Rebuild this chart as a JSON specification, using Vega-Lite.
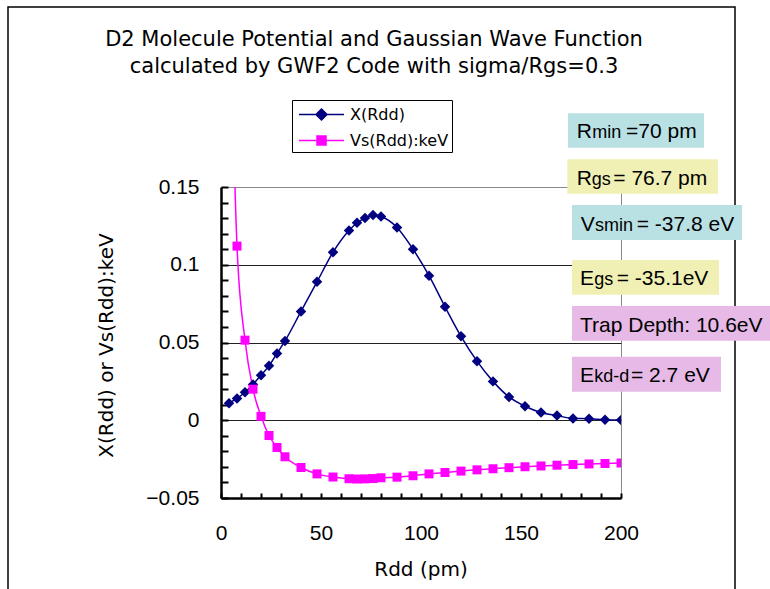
{
  "$schema": "https://vega.github.io/schema/vega-lite/v6.json",
  "width": 400,
  "height": 311,
  "autosize": {"type": "none"},
  "padding": {"left": 221, "top": 187, "right": 149, "bottom": 91},
  "background": "white",
  "config": {
    "view": {"stroke": "#888888", "strokeWidth": 1},
    "font": "Liberation Sans"
  },
  "title": {
    "text": ["D2 Molecule Potential and Gaussian Wave Function", "calculated by GWF2 Code with sigma/Rgs=0.3"],
    "font": "DejaVu Sans", "fontSize": 21, "fontWeight": "normal", "color": "black",
    "anchor": "middle", "dx": -47, "dy": 95, "lineHeight": 27, "offset": 24
  },
  "resolve": {"axis": {"x": "independent", "y": "independent"}},
  "datasets": {
    "frame": [{"x1": -106.5, "x2": 257, "y1": 0.2658, "y2": -0.12}],
    "boxes": [
      {"kind": "teal", "bx1": 173.5, "bx2": 241.5, "by1": 0.1974, "by2": 0.1753, "big": "R", "sub": "min", "rest": "=70 pm", "bigx": 177.85, "subx": 185.65, "restx": 202.5, "ty": 0.1813},
      {"kind": "yellow", "bx1": 173.15, "bx2": 248.5, "by1": 0.1678, "by2": 0.1457, "big": "R", "sub": "gs", "rest": "= 76.7 pm", "bigx": 177.85, "subx": 185.35, "restx": 196.15, "ty": 0.1513},
      {"kind": "teal", "bx1": 175.5, "bx2": 260.5, "by1": 0.1384, "by2": 0.1159, "big": "V", "sub": "smin", "rest": "= -37.8 eV", "bigx": 179.85, "subx": 187, "restx": 207.85, "ty": 0.1219},
      {"kind": "yellow", "bx1": 175.5, "bx2": 249, "by1": 0.1031, "by2": 0.0807, "big": "E", "sub": "gs", "rest": "= -35.1eV", "bigx": 179.5, "subx": 186.65, "restx": 197.85, "ty": 0.0870},
      {"kind": "pink", "bx1": 175.5, "bx2": 274.5, "by1": 0.0735, "by2": 0.0512, "big": "", "sub": "", "rest": "Trap Depth: 10.6eV", "bigx": 179.5, "subx": 179.5, "restx": 179.5, "ty": 0.0569},
      {"kind": "pink", "bx1": 175.5, "bx2": 250, "by1": 0.0409, "by2": 0.0184, "big": "E", "sub": "kd-d", "rest": "= 2.7 eV", "bigx": 179.5, "subx": 186.65, "restx": 205, "ty": 0.0248}
    ],
    "series": [
      {"series": "X(Rdd)", "rdd": 4, "value": 0.011},
      {"series": "X(Rdd)", "rdd": 8, "value": 0.014},
      {"series": "X(Rdd)", "rdd": 12, "value": 0.018},
      {"series": "X(Rdd)", "rdd": 16, "value": 0.023},
      {"series": "X(Rdd)", "rdd": 20, "value": 0.029},
      {"series": "X(Rdd)", "rdd": 24, "value": 0.035},
      {"series": "X(Rdd)", "rdd": 28, "value": 0.043},
      {"series": "X(Rdd)", "rdd": 32, "value": 0.051},
      {"series": "X(Rdd)", "rdd": 40, "value": 0.070},
      {"series": "X(Rdd)", "rdd": 48, "value": 0.089},
      {"series": "X(Rdd)", "rdd": 56, "value": 0.108},
      {"series": "X(Rdd)", "rdd": 64, "value": 0.122},
      {"series": "X(Rdd)", "rdd": 68, "value": 0.127},
      {"series": "X(Rdd)", "rdd": 72, "value": 0.130},
      {"series": "X(Rdd)", "rdd": 76, "value": 0.132},
      {"series": "X(Rdd)", "rdd": 80, "value": 0.131},
      {"series": "X(Rdd)", "rdd": 88, "value": 0.124},
      {"series": "X(Rdd)", "rdd": 96, "value": 0.110},
      {"series": "X(Rdd)", "rdd": 104, "value": 0.093},
      {"series": "X(Rdd)", "rdd": 112, "value": 0.073},
      {"series": "X(Rdd)", "rdd": 120, "value": 0.054},
      {"series": "X(Rdd)", "rdd": 128, "value": 0.038},
      {"series": "X(Rdd)", "rdd": 136, "value": 0.025},
      {"series": "X(Rdd)", "rdd": 144, "value": 0.015},
      {"series": "X(Rdd)", "rdd": 152, "value": 0.009},
      {"series": "X(Rdd)", "rdd": 160, "value": 0.005},
      {"series": "X(Rdd)", "rdd": 168, "value": 0.003},
      {"series": "X(Rdd)", "rdd": 176, "value": 0.0012},
      {"series": "X(Rdd)", "rdd": 184, "value": 0.001},
      {"series": "X(Rdd)", "rdd": 192, "value": 0.0003},
      {"series": "X(Rdd)", "rdd": 200, "value": 0.0001},
      {"series": "Vs(Rdd):keV", "rdd": 4, "value": 0.3},
      {"series": "Vs(Rdd):keV", "rdd": 8, "value": 0.112},
      {"series": "Vs(Rdd):keV", "rdd": 12, "value": 0.0515},
      {"series": "Vs(Rdd):keV", "rdd": 16, "value": 0.020},
      {"series": "Vs(Rdd):keV", "rdd": 20, "value": 0.0025},
      {"series": "Vs(Rdd):keV", "rdd": 24, "value": -0.0098},
      {"series": "Vs(Rdd):keV", "rdd": 28, "value": -0.0175},
      {"series": "Vs(Rdd):keV", "rdd": 32, "value": -0.0235},
      {"series": "Vs(Rdd):keV", "rdd": 40, "value": -0.0304},
      {"series": "Vs(Rdd):keV", "rdd": 48, "value": -0.0345},
      {"series": "Vs(Rdd):keV", "rdd": 56, "value": -0.0365},
      {"series": "Vs(Rdd):keV", "rdd": 64, "value": -0.0376},
      {"series": "Vs(Rdd):keV", "rdd": 68, "value": -0.0378},
      {"series": "Vs(Rdd):keV", "rdd": 72, "value": -0.0377},
      {"series": "Vs(Rdd):keV", "rdd": 76, "value": -0.0375},
      {"series": "Vs(Rdd):keV", "rdd": 80, "value": -0.0370},
      {"series": "Vs(Rdd):keV", "rdd": 88, "value": -0.0366},
      {"series": "Vs(Rdd):keV", "rdd": 96, "value": -0.0357},
      {"series": "Vs(Rdd):keV", "rdd": 104, "value": -0.0345},
      {"series": "Vs(Rdd):keV", "rdd": 112, "value": -0.0336},
      {"series": "Vs(Rdd):keV", "rdd": 120, "value": -0.0327},
      {"series": "Vs(Rdd):keV", "rdd": 128, "value": -0.0319},
      {"series": "Vs(Rdd):keV", "rdd": 136, "value": -0.0312},
      {"series": "Vs(Rdd):keV", "rdd": 144, "value": -0.0305},
      {"series": "Vs(Rdd):keV", "rdd": 152, "value": -0.0299},
      {"series": "Vs(Rdd):keV", "rdd": 160, "value": -0.0294},
      {"series": "Vs(Rdd):keV", "rdd": 168, "value": -0.0289},
      {"series": "Vs(Rdd):keV", "rdd": 176, "value": -0.0285},
      {"series": "Vs(Rdd):keV", "rdd": 184, "value": -0.0281},
      {"series": "Vs(Rdd):keV", "rdd": 192, "value": -0.0278},
      {"series": "Vs(Rdd):keV", "rdd": 200, "value": -0.0275}
    ]
  },
  "layer": [
    {
      "data": {"name": "series"},
      "mark": {"type": "line", "interpolate": "monotone", "strokeWidth": 1.5, "clip": true},
      "encoding": {
        "x": {
          "field": "rdd", "type": "quantitative",
          "scale": {"domain": [0, 200], "nice": false, "zero": false},
          "axis": {
            "values": [0, 10, 20, 30, 40, 50, 60, 70, 80, 90, 100, 110, 120, 130, 140, 150, 160, 170, 180, 190, 200],
            "labelExpr": "datum.value % 50 === 0 ? format(datum.value, 'd') : ''",
            "title": "Rdd (pm)", "titleFont": "DejaVu Sans", "titleFontSize": 20, "titleFontWeight": "normal", "titleColor": "black",
            "titleX": 199.5, "titleY": 77, "titleBaseline": "alphabetic", "titleAlign": "center",
            "labelFont": "Liberation Sans", "labelFontSize": 21, "labelColor": "black", "labelPadding": 29, "labelBaseline": "top",
            "labelFlush": false, "labelOverlap": false, "labelBound": false,
            "tickSize": -5, "tickWidth": 2, "tickColor": "black",
            "domainColor": "black", "domainWidth": 2.5, "grid": false
          }
        },
        "y": {
          "field": "value", "type": "quantitative",
          "scale": {"domain": [-0.05, 0.15], "nice": false, "zero": false},
          "axis": {
            "values": [-0.05, -0.04, -0.03, -0.02, -0.01, 0, 0.01, 0.02, 0.03, 0.04, 0.05, 0.06, 0.07, 0.08, 0.09, 0.1, 0.11, 0.12, 0.13, 0.14, 0.15],
            "labelExpr": "abs(round(datum.value * 100)) % 5 === 0 ? format(datum.value, '~g') : ''",
            "title": "X(Rdd) or Vs(Rdd):keV", "titleFont": "DejaVu Sans", "titleFontSize": 20, "titleFontWeight": "normal", "titleColor": "black",
            "titleX": -115, "titleY": 158, "titleBaseline": "middle", "titleAlign": "center", "titleAngle": -90,
            "labelFont": "Liberation Sans", "labelFontSize": 21, "labelColor": "black", "labelPadding": 29,
            "labelOverlap": false, "labelFlush": false, "labelBound": false,
            "tickSize": -7, "tickWidth": 2, "tickColor": "black",
            "domainColor": "black", "domainWidth": 2.5,
            "grid": true, "gridColor": "#222222", "gridWidth": 1,
            "gridOpacity": {"condition": {"test": "datum.value > -0.045 && datum.value < 0.145 && abs(round(datum.value * 100)) % 5 === 0", "value": 1}, "value": 0}
          }
        },
        "color": {
          "field": "series", "type": "nominal",
          "scale": {"domain": ["X(Rdd)", "Vs(Rdd):keV"], "range": ["#000080", "#FF00FF"]},
          "legend": {
            "orient": "none", "legendX": 71, "legendY": -87, "title": null,
            "strokeColor": "black", "fillColor": "white",
            "padding": 3.5, "rowPadding": 6, "symbolSize": 400, "symbolOffset": 15, "labelOffset": 17.5,
            "labelFont": "DejaVu Sans", "labelFontSize": 16, "labelColor": "black", "symbolStrokeWidth": 1.5,
            "encode": {
              "symbols": {
                "update": {
                  "shape": {"signal": "datum.value === 'X(Rdd)' ? 'M-2.25,0H2.25M0,-0.55L0.55,0L0,0.55L-0.55,0Z' : 'M-2.25,0H2.25M-0.45,-0.45H0.45V0.45H-0.45Z'"},
                  "fill": {"signal": "datum.value === 'X(Rdd)' ? '#000080' : '#FF00FF'"},
                  "stroke": {"signal": "datum.value === 'X(Rdd)' ? '#000080' : '#FF00FF'"}
                }
              }
            }
          }
        }
      }
    },
    {
      "data": {"name": "frame"},
      "mark": {"type": "rect", "fillOpacity": 0, "stroke": "black", "strokeWidth": 1.5},
      "encoding": {
        "x": {"field": "x1", "type": "quantitative", "scale": {"domain": [0, 200], "nice": false, "zero": false}, "axis": null},
        "x2": {"field": "x2"},
        "y": {"field": "y1", "type": "quantitative", "scale": {"domain": [-0.05, 0.15], "nice": false, "zero": false}, "axis": null},
        "y2": {"field": "y2"}
      }
    },
    {
      "data": {"name": "series"},
      "transform": [{"filter": "datum.series === 'X(Rdd)'"}],
      "mark": {"type": "point", "shape": "diamond", "filled": true, "size": 110, "color": "#000080", "opacity": 1, "clip": true},
      "encoding": {
        "x": {"field": "rdd", "type": "quantitative", "scale": {"domain": [0, 200], "nice": false, "zero": false}, "axis": null},
        "y": {"field": "value", "type": "quantitative", "scale": {"domain": [-0.05, 0.15], "nice": false, "zero": false}, "axis": null}
      }
    },
    {
      "data": {"name": "series"},
      "transform": [{"filter": "datum.series === 'Vs(Rdd):keV'"}],
      "mark": {"type": "point", "shape": "square", "filled": true, "size": 81, "color": "#FF00FF", "opacity": 1, "clip": true},
      "encoding": {
        "x": {"field": "rdd", "type": "quantitative", "scale": {"domain": [0, 200], "nice": false, "zero": false}, "axis": null},
        "y": {"field": "value", "type": "quantitative", "scale": {"domain": [-0.05, 0.15], "nice": false, "zero": false}, "axis": null}
      }
    },
    {
      "data": {"name": "boxes"},
      "mark": {"type": "rect"},
      "encoding": {
        "x": {"field": "bx1", "type": "quantitative", "scale": {"domain": [0, 200], "nice": false, "zero": false}, "axis": null},
        "x2": {"field": "bx2"},
        "y": {"field": "by1", "type": "quantitative", "scale": {"domain": [-0.05, 0.15], "nice": false, "zero": false}, "axis": null},
        "y2": {"field": "by2"},
        "fill": {"field": "kind", "type": "nominal", "scale": {"domain": ["teal", "yellow", "pink"], "range": ["#B9E1E4", "#F0F0B4", "#E6B9E6"]}, "legend": null}
      }
    },
    {
      "data": {"name": "boxes"},
      "mark": {"type": "text", "align": "left", "baseline": "alphabetic", "font": "Liberation Sans", "fontSize": 21, "color": "black"},
      "encoding": {
        "x": {"field": "bigx", "type": "quantitative", "scale": {"domain": [0, 200], "nice": false, "zero": false}, "axis": null},
        "y": {"field": "ty", "type": "quantitative", "scale": {"domain": [-0.05, 0.15], "nice": false, "zero": false}, "axis": null},
        "text": {"field": "big"}
      }
    },
    {
      "data": {"name": "boxes"},
      "mark": {"type": "text", "align": "left", "baseline": "alphabetic", "font": "Liberation Sans", "fontSize": 18, "color": "black"},
      "encoding": {
        "x": {"field": "subx", "type": "quantitative", "scale": {"domain": [0, 200], "nice": false, "zero": false}, "axis": null},
        "y": {"field": "ty", "type": "quantitative", "scale": {"domain": [-0.05, 0.15], "nice": false, "zero": false}, "axis": null},
        "text": {"field": "sub"}
      }
    },
    {
      "data": {"name": "boxes"},
      "mark": {"type": "text", "align": "left", "baseline": "alphabetic", "font": "Liberation Sans", "fontSize": 21, "color": "black"},
      "encoding": {
        "x": {"field": "restx", "type": "quantitative", "scale": {"domain": [0, 200], "nice": false, "zero": false}, "axis": null},
        "y": {"field": "ty", "type": "quantitative", "scale": {"domain": [-0.05, 0.15], "nice": false, "zero": false}, "axis": null},
        "text": {"field": "rest"}
      }
    }
  ]
}
